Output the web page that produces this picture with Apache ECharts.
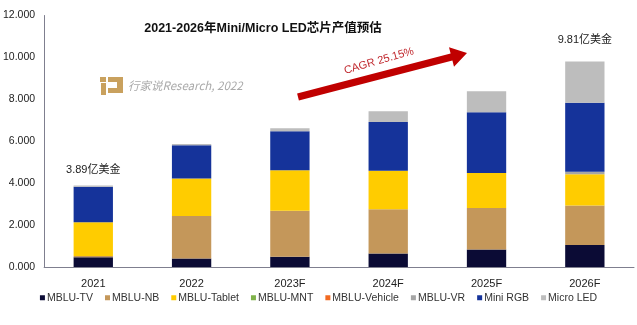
<!DOCTYPE html>
<html>
<head>
<meta charset="utf-8">
<script src="https://cdn.jsdelivr.net/npm/echarts@6/dist/echarts.min.js"></script>
<style>
html,body{margin:0;padding:0;background:#fff;}
#c{width:637px;height:325px;}
</style>
</head>
<body>
<div id="c"></div>
<script>
var categories = ['2021', '2022', '2023F', '2024F', '2025F', '2026F'];
var mbluTV      = [0.46, 0.41, 0.49, 0.65, 0.84, 1.05];
var mbluNB      = [0.06, 2.02, 2.19, 2.10, 1.98, 1.89];
var mbluTablet  = [1.61, 1.79, 1.94, 1.84, 1.67, 1.49];
var mbluMNT     = [0, 0, 0, 0, 0, 0];
var mbluVehicle = [0, 0, 0, 0, 0, 0];
var mbluVR      = [0, 0, 0, 0, 0, 0.11];
var miniRGB     = [1.70, 1.59, 1.86, 2.33, 2.89, 3.30];
var microLED    = [0.06, 0.06, 0.14, 0.51, 1.00, 1.97];
var totalLabels = ['3.89亿美金', '', '', '', '', '9.81亿美金'];
var yTicks = [0, 2, 4, 6, 8, 10, 12];
var cagrText = 'CAGR 25.15%';
var titleText = '2021-2026年Mini/Micro LED芯片产值预估';
var watermarkText = '行家说Research, 2022';

var FONT = '"Liberation Sans", Arial, "Noto Sans CJK SC", sans-serif';
var seriesDefs = [
  ['MBLU-TV', mbluTV, '#0B0B35'],
  ['MBLU-NB', mbluNB, '#C4975A'],
  ['MBLU-Tablet', mbluTablet, '#FFCC00'],
  ['MBLU-MNT', mbluMNT, '#7FB24A'],
  ['MBLU-Vehicle', mbluVehicle, '#F26A21'],
  ['MBLU-VR', mbluVR, '#A5A5A5'],
  ['Mini RGB', miniRGB, '#15339A'],
  ['Micro LED', microLED, '#BDBDBD']
];

var chart = echarts.init(document.getElementById('c'), null, {renderer: 'canvas'});

var series = seriesDefs.map(function (d) {
  return {
    name: d[0], type: 'bar', stack: 'total', data: d[1],
    barWidth: '40%',
    itemStyle: {color: d[2]},
    emphasis: {disabled: true}
  };
});

var option = {
  animation: false,
  textStyle: {fontFamily: FONT},
  grid: {left: 44, right: 3, top: 15.5, bottom: 58, containLabel: false},
  legend: {
    bottom: 17, left: 'center',
    icon: 'rect', itemWidth: 5, itemHeight: 5, itemGap: 12,
    textStyle: {fontSize: 10.5, color: '#333', fontFamily: FONT, padding: [0, 0, 0, -3]},
    data: seriesDefs.map(function (d) { return d[0]; })
  },
  xAxis: {
    type: 'category', data: categories,
    axisLine: {lineStyle: {color: '#7F7F8F', width: 1}},
    axisTick: {show: false},
    axisLabel: {fontSize: 11, color: '#222', margin: 11, fontFamily: FONT}
  },
  yAxis: {
    type: 'value', min: yTicks[0], max: yTicks[yTicks.length - 1], interval: 2,
    axisLine: {show: true, lineStyle: {color: '#7F7F8F', width: 1}},
    axisTick: {show: false},
    splitLine: {show: false},
    axisLabel: {fontSize: 10.5, color: '#222', margin: 9, fontFamily: FONT,
      formatter: function (v) { return v.toFixed(3); }}
  },
  series: series
};
chart.setOption(option);

var totals = categories.map(function (c, i) {
  return seriesDefs.reduce(function (s, d) { return s + d[1][i]; }, 0);
});
var labelGap = [16, 0, 0, 0, 0, 21];

var graphics = [];
graphics.push({type: 'text', x: 263, y: 29, z: 10,
  style: {text: titleText, fill: '#111', font: 'bold 12.5px ' + FONT, textAlign: 'center', textVerticalAlign: 'middle'}});

// watermark logo
var logoColor = '#C9A15E';
[[100, 77, 6, 5], [101, 83, 5, 12], [108, 77, 15, 5], [117, 77, 6, 16], [108, 88, 15, 5]].forEach(function (r) {
  graphics.push({type: 'rect', z: 5, shape: {x: r[0], y: r[1], width: r[2], height: r[3]}, style: {fill: logoColor}});
});
graphics.push({type: 'text', x: 128, y: 86, z: 5,
  style: {text: watermarkText, fill: '#AAAAAA', font: 'italic 11.5px "Noto Sans CJK SC", ' + FONT, textVerticalAlign: 'middle'}});

// CAGR arrow
graphics.push({type: 'polygon', z: 10,
  shape: {points: [[298.9, 100.4], [452.4, 60.4], [454.0, 66.7], [467, 53], [449.0, 47.3], [450.6, 53.6], [297.1, 93.6]]},
  style: {fill: '#C00000'}});
graphics.push({type: 'text', x: 379, y: 61, rotation: 0.28, z: 10,
  style: {text: cagrText, fill: '#C0272D', font: '11px ' + FONT, textAlign: 'center', textVerticalAlign: 'middle'}});

categories.forEach(function (c, i) {
  if (!totalLabels[i]) return;
  var p = chart.convertToPixel({xAxisIndex: 0, yAxisIndex: 0}, [c, totals[i]]);
  graphics.push({type: 'text', x: p[0], y: p[1] - labelGap[i], z: 10,
    style: {text: totalLabels[i], fill: '#222', font: '11px ' + FONT, textAlign: 'center', textVerticalAlign: 'middle'}});
});

chart.setOption({graphic: graphics});
</script>
</body>
</html>
